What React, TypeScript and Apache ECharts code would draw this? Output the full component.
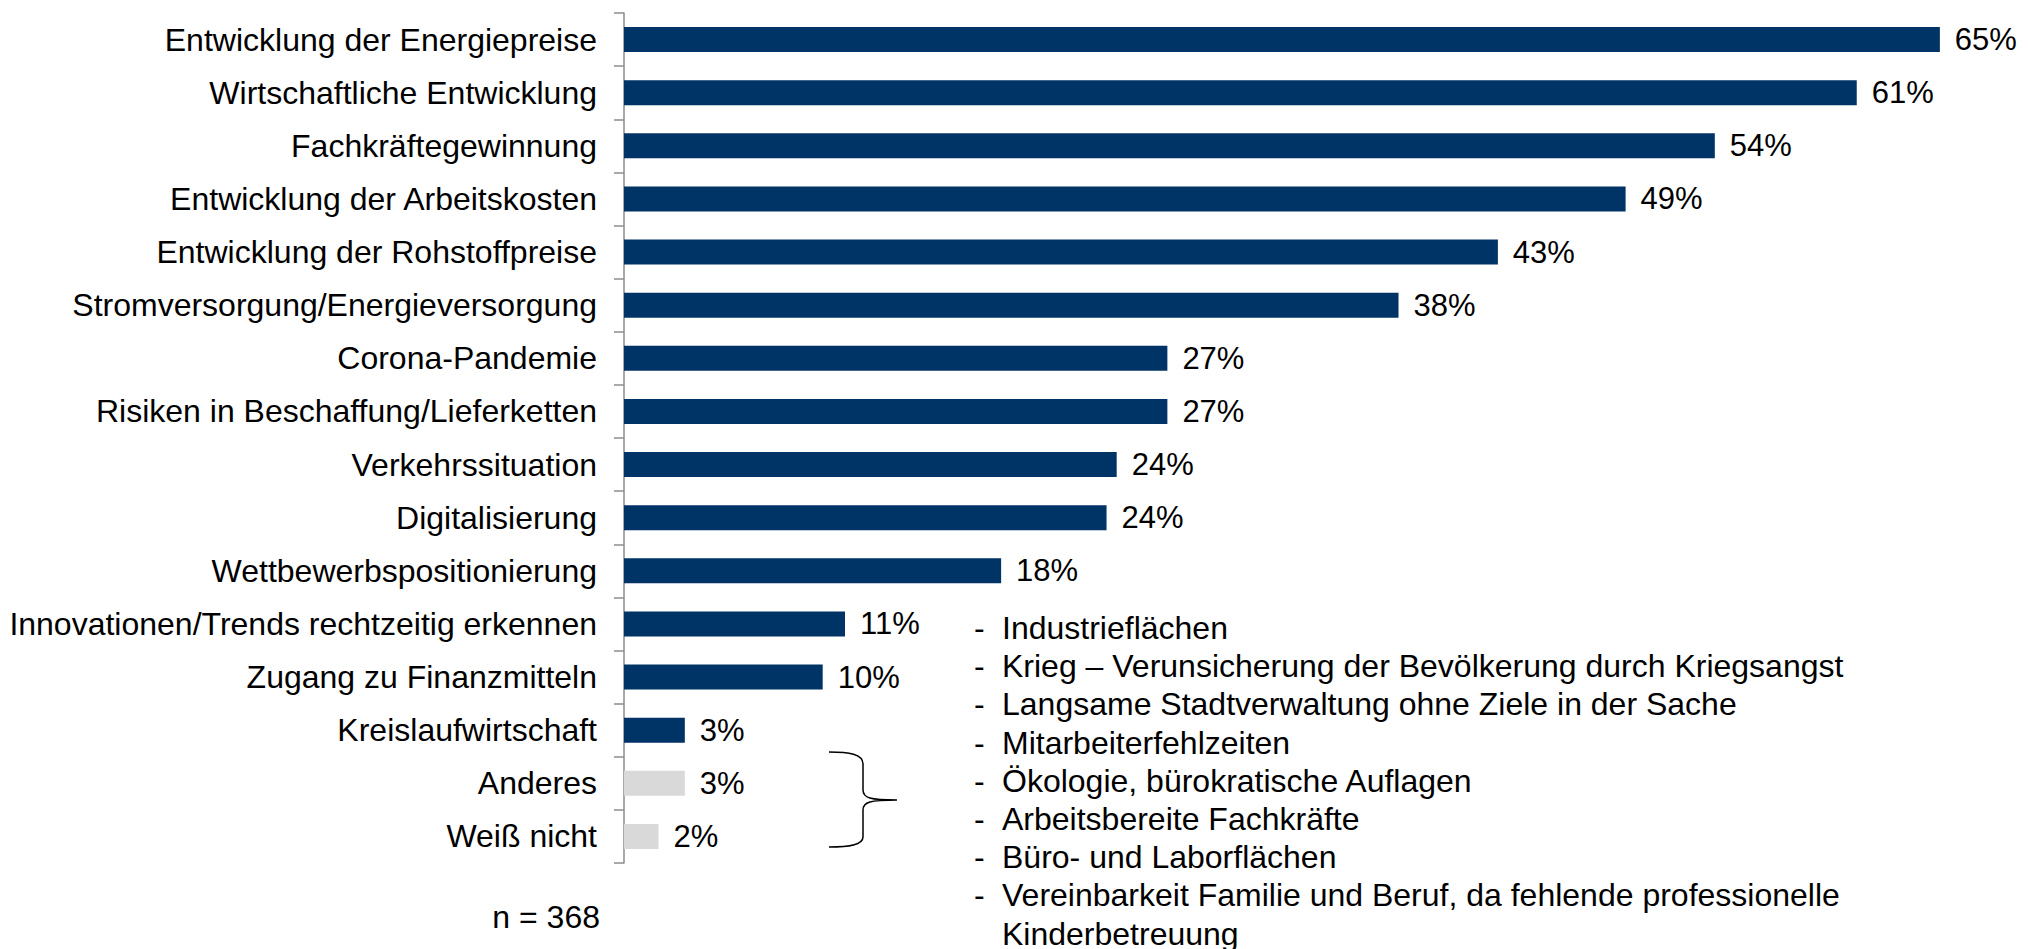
import React, { useEffect, useRef } from "react";
import * as echarts from "echarts";

const categories = [
  "Entwicklung der Energiepreise",
  "Wirtschaftliche Entwicklung",
  "Fachkräftegewinnung",
  "Entwicklung der Arbeitskosten",
  "Entwicklung der Rohstoffpreise",
  "Stromversorgung/Energieversorgung",
  "Corona-Pandemie",
  "Risiken in Beschaffung/Lieferketten",
  "Verkehrssituation",
  "Digitalisierung",
  "Wettbewerbspositionierung",
  "Innovationen/Trends rechtzeitig erkennen",
  "Zugang zu Finanzmitteln",
  "Kreislaufwirtschaft",
  "Anderes",
  "Weiß nicht",
];

// bar lengths as drawn (percent)
const values = [64.9, 60.8, 53.8, 49.4, 43.1, 38.2, 26.8, 26.8, 24.3, 23.8, 18.6, 10.9, 9.8, 3.0, 3.0, 1.7];

// percentages as printed next to the bars
const printedPercents = [65, 61, 54, 49, 43, 38, 27, 27, 24, 24, 18, 11, 10, 3, 3, 2];

const greyCategories = ["Anderes", "Weiß nicht"];

const otherAnswers = [
  "Industrieflächen",
  "Krieg – Verunsicherung der Bevölkerung durch Kriegsangst",
  "Langsame Stadtverwaltung ohne Ziele in der Sache",
  "Mitarbeiterfehlzeiten",
  "Ökologie, bürokratische Auflagen",
  "Arbeitsbereite Fachkräfte",
  "Büro- und Laborflächen",
  "Vereinbarkeit Familie und Beruf, da fehlende professionelle",
];
const otherAnswersContinuation = ["Kinderbetreuung"];

const sampleNote = "n = 368";

const FONT = "'Liberation Sans', Arial, Helvetica, sans-serif";
const NAVY = "#003366";
const GREY = "#D9D9D9";
const AXIS = "#8C8C8C";

let braceRegistered = false;
function registerBrace() {
  if (braceRegistered) return;
  const d =
    "M0,0 C20,0 34,2 34,12 L34,38 C34,46 41,48 68,48 C41,48 34,50 34,58 L34,85 C34,93 20,95 0,95";
  echarts.graphic.registerShape("brace", echarts.graphic.extendPath(d, {}));
  braceRegistered = true;
}

export default function App() {
  const ref = useRef<HTMLDivElement>(null);

  useEffect(() => {
    if (!ref.current) return;
    registerBrace();
    const chart = echarts.init(ref.current, undefined, { renderer: "svg" });

    const listX = 974;
    const textX = 1002;
    const firstY = 628;
    const lineH = 38.2;
    const listFont = 32;

    const graphics: any[] = [];
    otherAnswers.forEach((t, i) => {
      graphics.push({
        type: "text",
        x: listX,
        y: firstY + i * lineH,
        style: {
          text: "-",
          fontSize: listFont,
          fontFamily: FONT,
          fill: "#000",
          textVerticalAlign: "middle",
        },
      });
      graphics.push({
        type: "text",
        x: textX,
        y: firstY + i * lineH,
        style: {
          text: t,
          fontSize: listFont,
          fontFamily: FONT,
          fill: "#000",
          textVerticalAlign: "middle",
        },
      });
    });
    otherAnswersContinuation.forEach((t, j) => {
      graphics.push({
        type: "text",
        x: textX,
        y: firstY + (otherAnswers.length + j) * lineH,
        style: {
          text: t,
          fontSize: listFont,
          fontFamily: FONT,
          fill: "#000",
          textVerticalAlign: "middle",
        },
      });
    });
    graphics.push({
      type: "text",
      x: 600,
      y: 917,
      style: {
        text: sampleNote,
        fontSize: 32,
        fontFamily: FONT,
        fill: "#000",
        textAlign: "right",
        textVerticalAlign: "middle",
      },
    });
    graphics.push({
      type: "brace",
      x: 829,
      y: 752,
      style: { stroke: "#000", fill: null, lineWidth: 1.5 },
    });

    chart.setOption({
      animation: false,
      backgroundColor: "#fff",
      grid: { left: 624, top: 13, right: 5, bottom: 86, containLabel: false },
      xAxis: {
        type: "value",
        min: 0,
        max: 69,
        show: false,
        splitLine: { show: false },
      },
      yAxis: {
        type: "category",
        inverse: true,
        data: categories,
        axisLine: { show: true, lineStyle: { color: AXIS, width: 1.5 } },
        axisTick: { show: true, length: 10, lineStyle: { color: AXIS, width: 1.5 } },
        axisLabel: {
          fontSize: 32,
          fontFamily: FONT,
          color: "#000",
          margin: 27,
        },
        splitLine: { show: false },
      },
      series: [
        {
          type: "bar",
          barWidth: 25,
          data: values.map((v, i) => ({
            value: v,
            itemStyle: {
              color: greyCategories.includes(categories[i]) ? GREY : NAVY,
            },
          })),
          label: {
            show: true,
            position: "right",
            distance: 15,
            formatter: (p: any) => printedPercents[p.dataIndex] + "%",
            fontSize: 31,
            fontFamily: FONT,
            color: "#000",
          },
        },
      ],
      graphic: graphics,
    });

    return () => chart.dispose();
  }, []);

  return (
    <div
      ref={ref}
      style={{ position: "fixed", left: 0, top: 0, width: 2028, height: 949 }}
    />
  );
}
